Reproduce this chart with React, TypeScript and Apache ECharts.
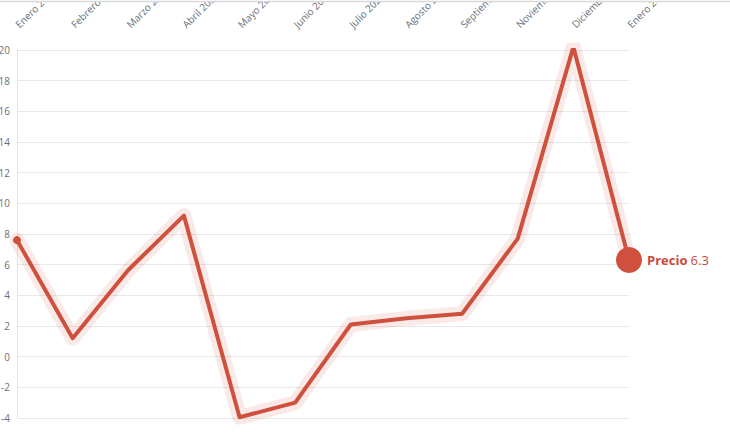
import React, { useEffect, useRef } from "react";
import * as echarts from "echarts";

const categories = [
  "Enero 2024", "Febrero 2024", "Marzo 2024", "Abril 2024", "Mayo 2024", "Junio 2024",
  "Julio 2024", "Agosto 2024", "Septiembre 2024", "Noviembre 2024", "Diciembre 2024", "Enero 2025",
];
const precio = [7.6, 1.2, 5.65, 9.2, -3.95, -3.0, 2.1, 2.5, 2.8, 7.7, 20.2, 6.3];
const seriesName = "Precio";

export default function App() {
  const ref = useRef<HTMLDivElement>(null);
  useEffect(() => {
    if (!ref.current) return;
    const chart = echarts.init(ref.current, undefined, { renderer: "svg" });
    const last = precio.length - 1;
    chart.setOption({
      animation: false,
      textStyle: { fontFamily: "Open Sans" },
      grid: { left: 17, right: 101, top: 50, bottom: 23, containLabel: false, outerBoundsMode: "none" },
      xAxis: {
        type: "category",
        position: "top",
        data: categories,
        boundaryGap: false,
        axisLine: { show: false },
        axisTick: { show: false },
        axisLabel: { rotate: 45, margin: 24, color: "#6a6f7a", fontSize: 10 },
        splitLine: { show: false },
      },
      yAxis: {
        type: "value",
        min: -4,
        max: 20,
        interval: 2,
        axisLine: { show: true, lineStyle: { color: "#e3e3e3" } },
        axisTick: { show: false },
        axisLabel: { margin: 7, color: "#6a6f7a", fontSize: 10 },
        splitLine: { lineStyle: { color: "#e8e8e8" } },
      },
      graphic: [
        { type: "rect", shape: { x: 0, y: 0, width: 730, height: 1 }, style: { fill: "#fff" }, z: 99 },
        { type: "line", shape: { x1: 0, y1: 1.5, x2: 730, y2: 1.5 }, style: { stroke: "#d9d9d9", lineWidth: 1.5 }, z: 100 },
      ],
      series: [
        {
          type: "line",
          data: precio,
          silent: true,
          showSymbol: false,
          lineStyle: { color: "rgba(209,80,63,0.12)", width: 15, cap: "round", join: "round" },
          z: 1,
        },
        {
          name: seriesName,
          type: "line",
          data: precio,
          showSymbol: true,
          showAllSymbol: true,
          symbol: "circle",
          symbolSize: (_v: any, p: any) => (p.dataIndex === 0 ? 8 : p.dataIndex === last ? 26 : 0),
          itemStyle: { color: "#cf503d" },
          lineStyle: { color: "#cf503d", width: 4, cap: "round", join: "round" },
          z: 2,
          endLabel: {
            show: true,
            distance: 18,
            formatter: (p: any) => `{a|${p.seriesName}} {b|${p.value}}`,
            rich: {
              a: { fontWeight: "bold", fontSize: 13, color: "#c94a3a", fontFamily: "Open Sans" },
              b: { fontSize: 13, color: "#c94a3a", fontFamily: "Open Sans" },
            },
          },
        },
      ],
    });
    return () => chart.dispose();
  }, []);
  return (
    <div
      ref={ref}
      style={{ position: "fixed", left: 0, top: 0, width: 730, height: 441, background: "#fff" }}
    />
  );
}
